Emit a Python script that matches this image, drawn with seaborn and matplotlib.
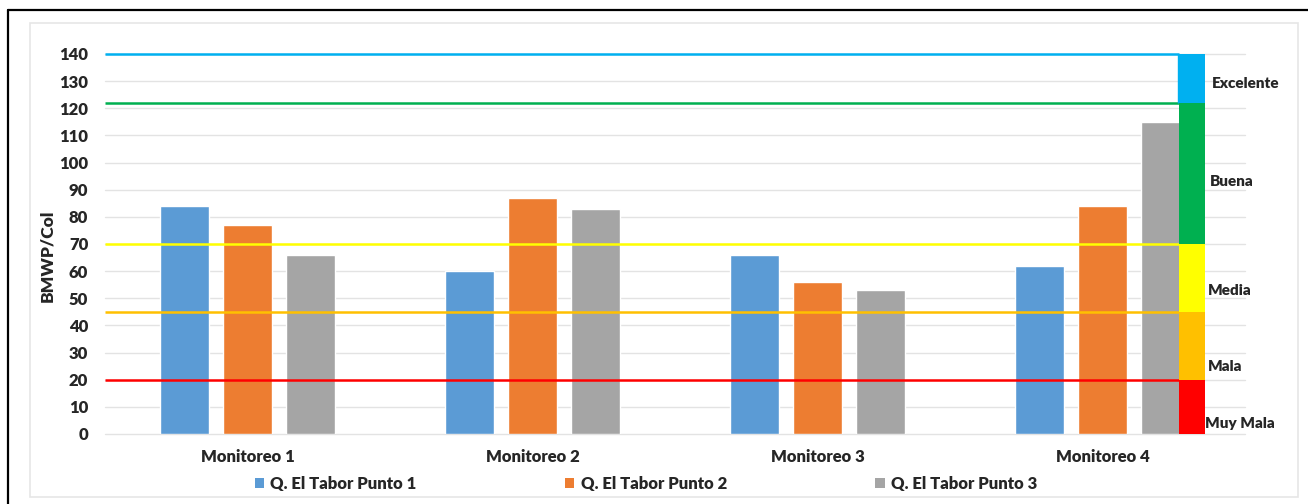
import matplotlib
matplotlib.use("Agg")
import matplotlib.pyplot as plt
from matplotlib.patches import Patch, Rectangle
import seaborn as sns
import pandas as pd

# Monitoring campaigns and sampling points
monitoreos = ["Monitoreo 1", "Monitoreo 2", "Monitoreo 3", "Monitoreo 4"]
puntos = ["Q. El Tabor Punto 1", "Q. El Tabor Punto 2", "Q. El Tabor Punto 3"]
punto1 = [84, 60, 66, 62]
punto2 = [77, 87, 56, 84]
punto3 = [66, 83, 53, 115]

# BMWP/Col water-quality classes (upper limits) and colours
clases = ["Muy Mala", "Mala", "Media", "Buena", "Excelente"]
limites = [20, 45, 70, 122, 140]
colores_clase = ["#FF0000", "#FFC000", "#FFFF00", "#00B050", "#00B0F0"]
colores_barras = ["#5B9BD5", "#ED7D31", "#A5A5A5"]

df = pd.DataFrame({
    "Monitoreo": monitoreos * 3,
    "Punto": [p for p in puntos for _ in monitoreos],
    "BMWP": punto1 + punto2 + punto3,
})

sns.set_theme(style="white")
plt.rcParams["font.family"] = ["Lato", "DejaVu Sans"]
PESO = "heavy"

fig = plt.figure(figsize=(13.08, 5.04), dpi=100)
ax = fig.add_axes([0.0803, 0.1389, 0.8716, 0.754])

# outer frames
fig.add_artist(Rectangle((30 / 1308, 1 - 497 / 504), (1298 - 30) / 1308, (497 - 23) / 504,
                         transform=fig.transFigure, fill=False, edgecolor="#e6e6e6", lw=1.2))
fig.add_artist(plt.Line2D([8 / 1308, 1.0], [1 - 10 / 504, 1 - 10 / 504],
                          transform=fig.transFigure, color="black", lw=1.6))
fig.add_artist(plt.Line2D([8 / 1308, 8 / 1308], [0, 1 - 10 / 504],
                          transform=fig.transFigure, color="black", lw=1.6))

# gridlines
for v in range(0, 141, 10):
    ax.axhline(v, color="#e3e3e3", lw=1.0, zorder=0, clip_on=False)

sns.barplot(data=df, x="Monitoreo", y="BMWP", hue="Punto", order=monitoreos,
            hue_order=puntos, palette=colores_barras, width=0.663, gap=0.21,
            saturation=1, ax=ax, legend=False, zorder=2)

# class threshold lines
x_fin = 3.268
for lim, c in zip(limites, colores_clase):
    ax.hlines(lim, -0.5, x_fin, colors=c, lw=1.8, zorder=3, clip_on=False)
ax.vlines(x_fin - 0.005, limites[3], limites[4], colors=colores_clase[4], lw=1.0,
          zorder=3, clip_on=False)

# stacked class scale
x_banda = 3.314
abajo = 0
for lim, c in zip(limites, colores_clase):
    ax.bar(x_banda, lim - abajo, bottom=abajo, width=0.091, color=c,
           zorder=4, clip_on=False, linewidth=0)
    abajo = lim

# class labels
pos_etiquetas = [(3.36, 4), (3.37, 25), (3.37, 53), (3.375, 93), (3.385, 129)]
for nombre, (xe, ye) in zip(clases, pos_etiquetas):
    ax.text(xe, ye, nombre, fontsize=11, fontweight=PESO, color="#262626",
            ha="left", va="center", clip_on=False)

ax.set_xlim(-0.5, 3.5)
ax.set_ylim(0, 140)
ax.set_yticks(range(0, 141, 10))
ax.set_xlabel("")
ax.set_ylabel("BMWP/Col", fontsize=12.5, fontweight=PESO, color="#262626")
ax.yaxis.set_label_coords(-0.044, 0.468)
ax.tick_params(axis="y", labelsize=12, pad=12, length=0, labelcolor="#262626")
ax.tick_params(axis="x", labelsize=12, pad=11, length=0, labelcolor="#262626")
for lab in ax.get_xticklabels() + ax.get_yticklabels():
    lab.set_fontweight(PESO)
for s in ax.spines.values():
    s.set_visible(False)

handles = [Patch(facecolor=c, edgecolor="none", label=p) for c, p in zip(colores_barras, puntos)]
fig.legend(handles=handles, loc="center", bbox_to_anchor=(646 / 1308, 1 - 484 / 504),
           ncol=3, frameon=False, handlelength=0.55, handleheight=0.55, handletextpad=0.4,
           columnspacing=8.9, prop={"weight": PESO, "size": 12})
for t in fig.legends[0].get_texts():
    t.set_color("#262626")

fig.savefig("out.png", dpi=100, facecolor="white")
